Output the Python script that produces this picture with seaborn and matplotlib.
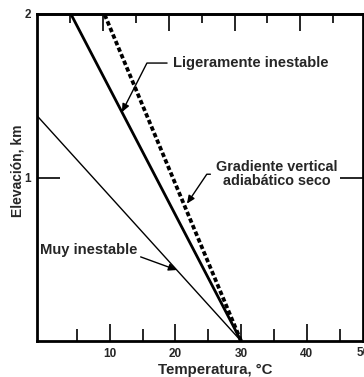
import matplotlib
matplotlib.use("Agg")
import matplotlib.pyplot as plt
from matplotlib.ticker import FixedLocator
import numpy as np
import pandas as pd
import seaborn as sns

# Temperature profiles (°C) against elevation (km)
elevacion = [0.0, 2.0]
temp_adiabatico = [30.0, 9.2]        # gradiente vertical adiabático seco
temp_ligero = [30.0, 4.1]            # ligeramente inestable
elev_muy = [0.0, 1.38]
temp_muy = [30.0, -1.1]              # muy inestable

x_major = [10, 20, 30, 40]
x_minor = [5, 15, 25, 35, 45]
y_major = [1, 2]

sns.set_style("white")
plt.rcParams["font.family"] = ["Liberation Sans", "DejaVu Sans"]
plt.rcParams["font.weight"] = "bold"

fig = plt.figure(figsize=(3.64, 3.77), dpi=100)
ax = fig.add_axes([36.7 / 364, 36 / 377, 326.6 / 364, 327 / 377])

df_ad = pd.DataFrame({"T": temp_adiabatico, "z": elevacion})
df_li = pd.DataFrame({"T": temp_ligero, "z": elevacion})
df_mu = pd.DataFrame({"T": temp_muy, "z": elev_muy})

sns.lineplot(data=df_ad, x="T", y="z", ax=ax, color="black", lw=2.7,
             sort=False, linestyle=(0, (1.2, 0.7)), dash_capstyle="butt")
sns.lineplot(data=df_li, x="T", y="z", ax=ax, color="black", lw=2.0, sort=False)
sns.lineplot(data=df_mu, x="T", y="z", ax=ax, color="black", lw=1.0, sort=False)

ax.set_xlim(-1.1, 48.6)
ax.set_ylim(0, 2)

for s in ax.spines.values():
    s.set_linewidth(2.0)
    s.set_color("black")

ax.xaxis.set_major_locator(FixedLocator(x_major))
ax.xaxis.set_minor_locator(FixedLocator(x_minor))
ax.set_yticks(y_major)
ax.set_yticklabels([str(v) for v in y_major])
ax.tick_params(axis="x", which="major", direction="in", length=12.5, width=1.4,
               labelsize=8.5, pad=5, bottom=True, top=False)
ax.tick_params(axis="x", which="minor", direction="in", length=8.5, width=1.4,
               bottom=True, top=False)
ax.tick_params(axis="y", which="major", direction="in", length=16.5, width=1.4,
               labelsize=8.5, pad=4, left=True, right=True)

# the 50 label sits on the right frame, partly cut by the figure edge
ax.text(1.0, -0.0355, "50", transform=ax.transAxes, ha="center",
        va="center", fontsize=8.5, fontweight="bold", clip_on=False)

# upper tick marks, shifted one degree to the left
top = ax.secondary_xaxis("top", functions=(lambda x: x + 1, lambda x: x - 1))
top.xaxis.set_major_locator(FixedLocator([10, 20, 30, 40]))
top.xaxis.set_minor_locator(FixedLocator([5, 15, 25, 35, 45]))
top.tick_params(which="major", direction="in", length=12, width=1.4, labeltop=False)
top.tick_params(which="minor", direction="in", length=6.5, width=1.4)
top.spines["top"].set_linewidth(2.0)

ax.set_xlabel("Temperatura, °C", fontsize=10.8, fontweight="bold", labelpad=2,
              x=0.548)
ax.set_ylabel("Elevación, km", fontsize=10, fontweight="bold", labelpad=0,
              y=0.52)

def on_line(ts, zs, z):
    return float(np.interp(z, zs, ts)), z

arrow = dict(arrowstyle="-|>,head_length=0.45,head_width=0.2", color="black",
             lw=1.0, shrinkA=2, shrinkB=0)

ax.annotate("Ligeramente inestable", xy=on_line(temp_ligero, elevacion, 1.40),
            xytext=(19.66, 1.70), ha="left", va="center", fontsize=10.6,
            fontweight="bold",
            arrowprops=dict(arrow, relpos=(0, 0.5),
                            connectionstyle="angle,angleA=0,angleB=63,rad=0"))

tx, tz = on_line(temp_adiabatico, elevacion, 0.84)
ax.annotate("Gradiente vertical\nadiabático seco", xy=(tx + 0.5, tz),
            xytext=(35.5, 1.02), ha="center", va="center", fontsize=10.4,
            fontweight="bold", multialignment="center", linespacing=1.0,
            arrowprops=dict(arrow, relpos=(0.0, 0.5),
                            connectionstyle="angle,angleA=0,angleB=56,rad=0"))

ax.annotate("Muy inestable", xy=on_line(temp_muy, elev_muy, 0.434),
            xytext=(-0.6, 0.557), ha="left", va="center", fontsize=10.6,
            fontweight="bold",
            arrowprops=dict(arrow, relpos=(0.95, 0.0), shrinkA=0,
                            connectionstyle="angle,angleA=0,angleB=-20,rad=0"))

fig.savefig("out.png", dpi=100)
